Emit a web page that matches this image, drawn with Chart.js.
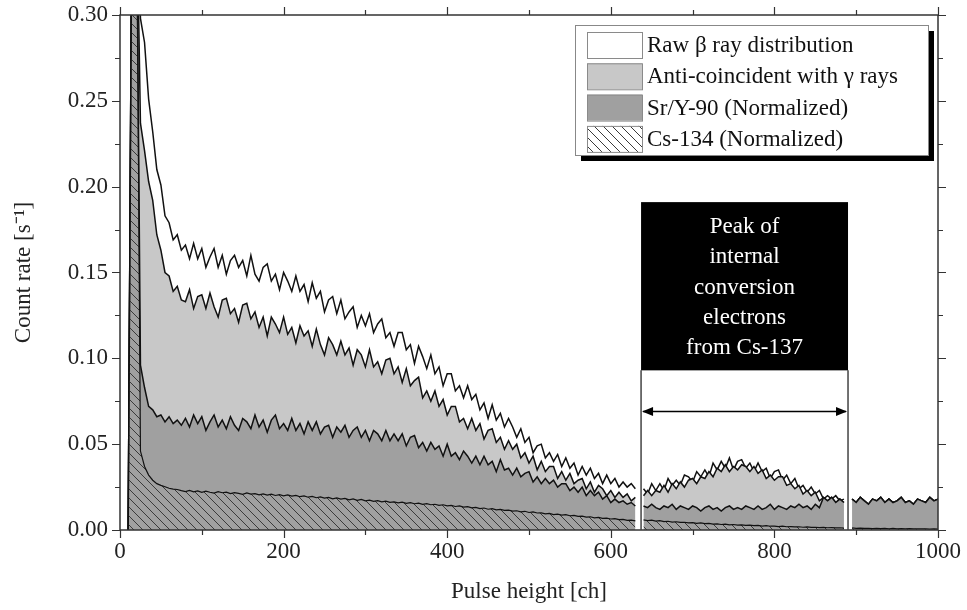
<!DOCTYPE html>
<html>
<head>
<meta charset="utf-8">
<title>Pulse height spectrum</title>
<script src="https://cdn.jsdelivr.net/npm/chart.js@4.4.1/dist/chart.umd.min.js"></script>
<style>
  html, body { margin: 0; padding: 0; background: #ffffff; }
  #wrap { width: 967px; height: 610px; }
</style>
</head>
<body>
<div id="wrap"><canvas id="spectrumChart" width="967" height="610"></canvas></div>
<script>
// Count rates, in units of 1e-3 s^-1,
// one value every 5 channels from ch 0 to ch 1000 (null = no data)
const CH_STEP = 5;
const RATE_UNIT = 1e-3;

const seriesLabels = [
  "Raw \u03b2 ray distribution",
  "Anti-coincident with \u03b3 rays",
  "Sr/Y-90 (Normalized)",
  "Cs-134 (Normalized)",
];

const xTicks = [0, 200, 400, 600, 800, 1000];
const yTicks = [0, 0.05, 0.1, 0.15, 0.2, 0.25, 0.3];

const annotationLines = ["Peak of", "internal", "conversion", "electrons", "from Cs-137"];

const rawRate = [
  null, null, 0, 400, 400, 298, 284, 251, 232, 210, 201, 183, 179, 169, 172, 163,
  166, 158, 167, 158, 164, 153, 159, 164, 153, 160,
  149, 157, 160, 153, 157, 148, 160, 149, 145, 153,
  155, 145, 149, 140, 150, 145, 139, 148, 139, 143,
  133, 144, 135, 139, 127, 134, 136, 126, 134, 123,
  127, 130, 118, 125, 119, 126, 115, 120, 123, 112,
  115, 107, 115, 115, 105, 108, 97, 107, 101, 94,
  102, 91, 95, 84, 91, 91, 81, 84, 77, 84,
  76, 79, 70, 74, 65, 73, 64, 68, 60, 65,
  60, 54, 59, 51, 54, 45, 49, 50, 42, 45,
  40, 44, 37, 42, 36, 39, 32, 37, 32, 36,
  30, 33, 27, 32, 27, 30, 25, 28, 25, 27,
  24,
  null,
  24, 21, 27, 23, 27, 23, 30, 26, 29, 26,
  32, 31, 28, 34, 31, 35, 31, 39, 35, 40,
  36, 42, 35, 40, 41, 36, 39, 34, 39, 34,
  36, 30, 34, 35, 29, 32, 27, 30, 24, 26,
  22, 25, 21, 23, 18, 20, 18, 20, 17, 18,
  null,
  18, 16, 19, 17, 15, 18, 17, 19, 16, 18, 16, 17, 19, 16, 17, 15, 18, 17, 16, 19, 17, 18,
];

const antiRate = [
  null, null, 0, 400, 380, 237, 221, 203, 192, 172, 163, 150, 148, 139, 142, 134,
  133, 140, 129, 136, 137, 129, 138, 130, 124, 134,
  135, 126, 129, 121, 131, 132, 123, 127, 118, 124,
  113, 124, 120, 115, 124, 114, 118, 109, 119, 113,
  116, 107, 117, 108, 102, 112, 108, 102, 110, 102,
  106, 96, 105, 102, 95, 105, 95, 98, 91, 99,
  100, 91, 95, 86, 94, 84, 87, 89, 77, 81,
  75, 81, 72, 76, 67, 72, 72, 63, 65, 59,
  65, 58, 62, 53, 58, 59, 51, 54, 47, 52,
  47, 50, 42, 45, 39, 43, 35, 40, 34, 37,
  37, 30, 34, 29, 33, 27, 29, 30, 24, 28,
  22, 26, 24, 20, 23, 19, 22, 19, 21, 17,
  19,
  null,
  20, 23, 20, 23, 22, 26, 22, 27, 24, 28,
  25, 29, 30, 27, 31, 30, 34, 31, 36, 34,
  38, 34, 37, 35, 38, 37, 34, 37, 33, 35,
  30, 32, 29, 31, 31, 26, 27, 24, 26, 21,
  23, 20, 22, 17, 19, 17, 19, 16, 18, 16,
  null,
  18, 16, 19, 17, 15, 18, 17, 19, 16, 18, 16, 17, 19, 16, 17, 15, 18, 17, 16, 19, 17, 18,
];

const srY90Rate = [
  null, null, 0, 400, 380, 96, 83, 72, 70, 66, 67, 63, 66, 62, 64, 61,
  65, 60, 67, 62, 66, 58, 63, 67, 60, 64,
  59, 66, 61, 58, 65, 63, 59, 67, 60, 64,
  57, 64, 67, 59, 62, 58, 65, 58, 62, 56,
  63, 58, 63, 56, 60, 61, 54, 60, 57, 61,
  54, 58, 60, 54, 58, 52, 58, 56, 52, 58,
  52, 56, 52, 56, 49, 54, 55, 48, 51, 46,
  51, 47, 49, 43, 50, 43, 45, 41, 46, 43,
  39, 43, 38, 43, 38, 40, 34, 41, 35, 36,
  32, 36, 31, 33, 34, 28, 31, 27, 30, 27,
  29, 25, 27, 27, 23, 25, 22, 25, 20, 23,
  20, 22, 18, 20, 16, 18, 16, 17, 15, 16,
  14,
  null,
  14, 13, 15, 13, 12, 14, 13, 15, 12, 14,
  13, 12, 14, 13, 11, 13, 14, 12, 13, 11,
  13, 14, 12, 13, 12, 14, 13, 12, 14, 12,
  13, 15, 12, 14, 13, 12, 14, 13, 15, 13,
  14, 12, 15, 13, 19, 17, 19, 16, 18, 16,
  null,
  18, 16, 19, 17, 15, 18, 17, 19, 16, 18, 16, 17, 19, 16, 17, 15, 18, 17, 16, 19, 17, 18,
];

const cs134Rate = [
  null, null, 0, 400, 400, 46, 37, 32, 29, 27, 26, 25.2, 24.3, 23.8, 23.6, 22.9,
  22.4, 23.1, 22.2, 22.8, 21.9, 22.6, 22.0, 21.5, 22.3, 21.7,
  22.0, 21.2, 21.8, 21.3, 20.8, 21.6, 20.9, 21.2, 20.5, 21.0,
  20.3, 20.9, 20.1, 20.6, 19.9, 20.4, 19.7, 20.2, 19.4, 19.9,
  19.1, 19.6, 18.8, 19.3, 18.6, 19.0, 18.2, 18.7, 18.0, 18.4,
  17.6, 18.1, 17.3, 17.8, 17.0, 17.4, 16.7, 17.1, 16.4, 16.8,
  16.1, 16.4, 15.8, 16.2, 15.5, 15.9, 15.3, 15.6, 14.9, 15.3,
  14.7, 15.0, 14.4, 14.7, 14.1, 14.3, 13.7, 14.0, 13.3, 13.6,
  12.9, 13.2, 12.5, 12.8, 12.1, 12.4, 11.7, 12.0, 11.4, 11.6,
  11.0, 11.2, 10.6, 10.9, 10.2, 10.5, 9.9, 10.0, 9.4, 9.7,
  9.0, 9.2, 8.7, 8.9, 8.3, 8.5, 7.9, 8.1, 7.5, 7.7,
  7.1, 7.3, 6.8, 6.9, 6.4, 6.6, 6.0, 6.2, 5.6, 5.8,
  5.3,
  null,
  5.9, 5.5, 5.7, 5.2, 5.4, 4.9, 5.1, 4.6, 4.8, 4.4,
  4.5, 4.1, 4.3, 3.9, 4.1, 3.7, 3.8, 3.4, 3.6, 3.2,
  3.4, 3.0, 3.2, 2.8, 3.0, 2.7, 2.8, 2.5, 2.7, 2.3,
  2.5, 2.2, 2.3, 2.0, 2.2, 1.9, 2.0, 1.8, 1.9, 1.6,
  1.8, 1.5, 1.6, 1.4, 1.5, 1.3, 1.4, 1.2, 1.3, 1.1,
  null,
  1.2, 1.0, 1.1, 0.9, 1.0, 0.8, 1.0, 0.8, 0.9, 0.7, 0.9, 0.7, 0.8, 0.6, 0.8, 0.6, 0.7, 0.6, 0.7, 0.5, 0.6, 0.5,
];

const FONT = "'Liberation Serif', 'Times New Roman', serif";

document.addEventListener("DOMContentLoaded", function () {
  initializeSpectrumChart();
});

function toPoints(values) {
  return values.map((v, i) => ({ x: i * CH_STEP, y: v === null ? null : v * RATE_UNIT }));
}

// diagonal "\" hatching, transparent between the lines
function makeHatch(background) {
  const size = 9;
  const c = document.createElement("canvas");
  c.width = size;
  c.height = size;
  const g = c.getContext("2d");
  if (background) {
    g.fillStyle = background;
    g.fillRect(0, 0, size, size);
  }
  g.strokeStyle = "#3a3a3a";
  g.lineWidth = 1;
  g.beginPath();
  g.moveTo(-1, -1);
  g.lineTo(size + 1, size + 1);
  g.moveTo(-1, size - 1);
  g.lineTo(1, size + 1);
  g.moveTo(size - 1, -1);
  g.lineTo(size + 1, 1);
  g.stroke();
  return g.createPattern(c, "repeat");
}

const frameAndTicks = {
  id: "frameAndTicks",
  afterDatasetsDraw(chart) {
    const { ctx, chartArea: a, scales } = chart;
    const x = scales.x;
    const y = scales.y;
    ctx.save();
    ctx.strokeStyle = "#333";
    ctx.lineWidth = 1.2;
    ctx.beginPath();
    for (let v = 0; v <= 1000; v += 100) {
      const px = Math.round(x.getPixelForValue(v)) + 0.5;
      const len = v % 200 === 0 ? 8 : 5;
      ctx.moveTo(px, a.bottom);
      ctx.lineTo(px, a.bottom + len);
      ctx.moveTo(px, a.top);
      ctx.lineTo(px, a.top - len);
    }
    for (let k = 0; k <= 12; k++) {
      const py = Math.round(y.getPixelForValue(k * 0.025)) + 0.5;
      const len = k % 2 === 0 ? 8 : 5;
      ctx.moveTo(a.left, py);
      ctx.lineTo(a.left - len, py);
      ctx.moveTo(a.right, py);
      ctx.lineTo(a.right + len, py);
    }
    ctx.stroke();
    ctx.lineWidth = 1.5;
    ctx.strokeRect(a.left, a.top, a.right - a.left, a.bottom - a.top);
    ctx.restore();
  },
};

const peakAnnotation = {
  id: "peakAnnotation",
  afterDatasetsDraw(chart) {
    const { ctx, chartArea: a, scales } = chart;
    const x1 = scales.x.getPixelForValue(637);
    const x2 = scales.x.getPixelForValue(890);
    const yTop = scales.y.getPixelForValue(0.191);
    const yBot = scales.y.getPixelForValue(0.093);
    const yArrow = scales.y.getPixelForValue(0.069);
    ctx.save();

    // bracket lines down to the axis
    ctx.strokeStyle = "#444";
    ctx.lineWidth = 1.5;
    ctx.beginPath();
    ctx.moveTo(x1, yBot);
    ctx.lineTo(x1, a.bottom);
    ctx.moveTo(x2, yBot);
    ctx.lineTo(x2, a.bottom);
    ctx.stroke();

    // black label box
    ctx.fillStyle = "#000";
    ctx.fillRect(x1, yTop, x2 - x1, yBot - yTop);
    ctx.fillStyle = "#fff";
    ctx.font = "23px " + FONT;
    ctx.textAlign = "center";
    ctx.textBaseline = "middle";
    const cx = (x1 + x2) / 2;
    annotationLines.forEach((line, i) => {
      ctx.fillText(line, cx, yTop + 25 + i * 30.2);
    });

    // double arrow
    ctx.strokeStyle = "#000";
    ctx.lineWidth = 1.5;
    ctx.beginPath();
    ctx.moveTo(x1 + 2, yArrow);
    ctx.lineTo(x2 - 2, yArrow);
    ctx.stroke();
    ctx.fillStyle = "#000";
    ctx.beginPath();
    ctx.moveTo(x1 + 1, yArrow);
    ctx.lineTo(x1 + 12, yArrow - 4.5);
    ctx.lineTo(x1 + 12, yArrow + 4.5);
    ctx.closePath();
    ctx.moveTo(x2 - 1, yArrow);
    ctx.lineTo(x2 - 12, yArrow - 4.5);
    ctx.lineTo(x2 - 12, yArrow + 4.5);
    ctx.closePath();
    ctx.fill();
    ctx.restore();
  },
};

const boxLegend = {
  id: "boxLegend",
  afterDraw(chart) {
    const { ctx, chartArea: a } = chart;
    const w = 353;
    const h = 130;
    const left = a.right - 363;
    const top = a.top + 10;
    ctx.save();
    ctx.fillStyle = "#000";
    ctx.fillRect(left + 6, top + 6, w, h);
    ctx.fillStyle = "#fff";
    ctx.fillRect(left, top, w, h);
    ctx.strokeStyle = "#888";
    ctx.lineWidth = 1;
    ctx.strokeRect(left + 0.5, top + 0.5, w, h);

    const swatches = ["#ffffff", "#c8c8c8", "#a0a0a0", makeHatch("#ffffff")];
    ctx.font = "23px " + FONT;
    ctx.textAlign = "left";
    ctx.textBaseline = "middle";
    seriesLabels.forEach((label, i) => {
      const sy = top + 7 + i * 31.3;
      ctx.fillStyle = swatches[i];
      ctx.fillRect(left + 12, sy, 55, 26);
      ctx.strokeStyle = "#8a8a8a";
      ctx.strokeRect(left + 12.5, sy + 0.5, 55, 26);
      ctx.fillStyle = "#111";
      ctx.fillText(label, left + 72, sy + 14);
    });
    ctx.restore();
  },
};

function initializeSpectrumChart() {
  const ctx = document.getElementById("spectrumChart");
  if (!ctx) return;

  const lineStyle = {
    borderColor: "#111111",
    borderWidth: 1.5,
    pointRadius: 0,
    tension: 0,
    spanGaps: false,
    fill: "origin",
  };

  // index 0 is painted last, so the stack runs Cs-134 (top layer) .. raw (bottom layer)
  new Chart(ctx, {
    type: "line",
    data: {
      datasets: [
        Object.assign({ label: seriesLabels[3], data: toPoints(cs134Rate), backgroundColor: makeHatch(null) }, lineStyle, { borderWidth: 1.2 }),
        Object.assign({ label: seriesLabels[2], data: toPoints(srY90Rate), backgroundColor: "#a0a0a0" }, lineStyle),
        Object.assign({ label: seriesLabels[1], data: toPoints(antiRate), backgroundColor: "#c8c8c8" }, lineStyle),
        Object.assign({ label: seriesLabels[0], data: toPoints(rawRate), backgroundColor: "#ffffff" }, lineStyle),
      ],
    },
    options: {
      responsive: false,
      animation: false,
      layout: {
        padding: { left: 0, right: 29, top: 15, bottom: 0 },
      },
      plugins: {
        legend: { display: false },
        tooltip: { enabled: false },
      },
      scales: {
        x: {
          type: "linear",
          min: 0,
          max: 1000,
          afterBuildTicks: function (scale) {
            scale.ticks = xTicks.map((v) => ({ value: v }));
          },
          afterFit: function (scale) {
            scale.height = 80;
            scale.paddingLeft = 0;
            scale.paddingRight = 0;
          },
          ticks: {
            padding: 8,
            color: "#222",
            font: { family: FONT, size: 23 },
            maxRotation: 0,
            callback: function (value) {
              return String(value);
            },
          },
          grid: { display: false, drawTicks: false },
          border: { display: false },
          title: {
            display: true,
            text: "Pulse height [ch]",
            color: "#222",
            font: { family: FONT, size: 23 },
            padding: { top: 0, bottom: 4 },
          },
        },
        y: {
          min: 0,
          max: 0.3,
          afterBuildTicks: function (scale) {
            scale.ticks = yTicks.map((v) => ({ value: v }));
          },
          afterFit: function (scale) {
            scale.width = 120;
            scale.paddingTop = 0;
            scale.paddingBottom = 0;
          },
          ticks: {
            padding: 12,
            color: "#222",
            font: { family: FONT, size: 23 },
            callback: function (value) {
              return Number(value).toFixed(2);
            },
          },
          grid: { display: false, drawTicks: false },
          border: { display: false },
          title: {
            display: true,
            text: "Count rate [s\u207b\u00b9]",
            color: "#222",
            font: { family: FONT, size: 23 },
            padding: { top: 10, bottom: 0 },
          },
        },
      },
    },
    plugins: [frameAndTicks, peakAnnotation, boxLegend],
  });
}
</script>
</body>
</html>
